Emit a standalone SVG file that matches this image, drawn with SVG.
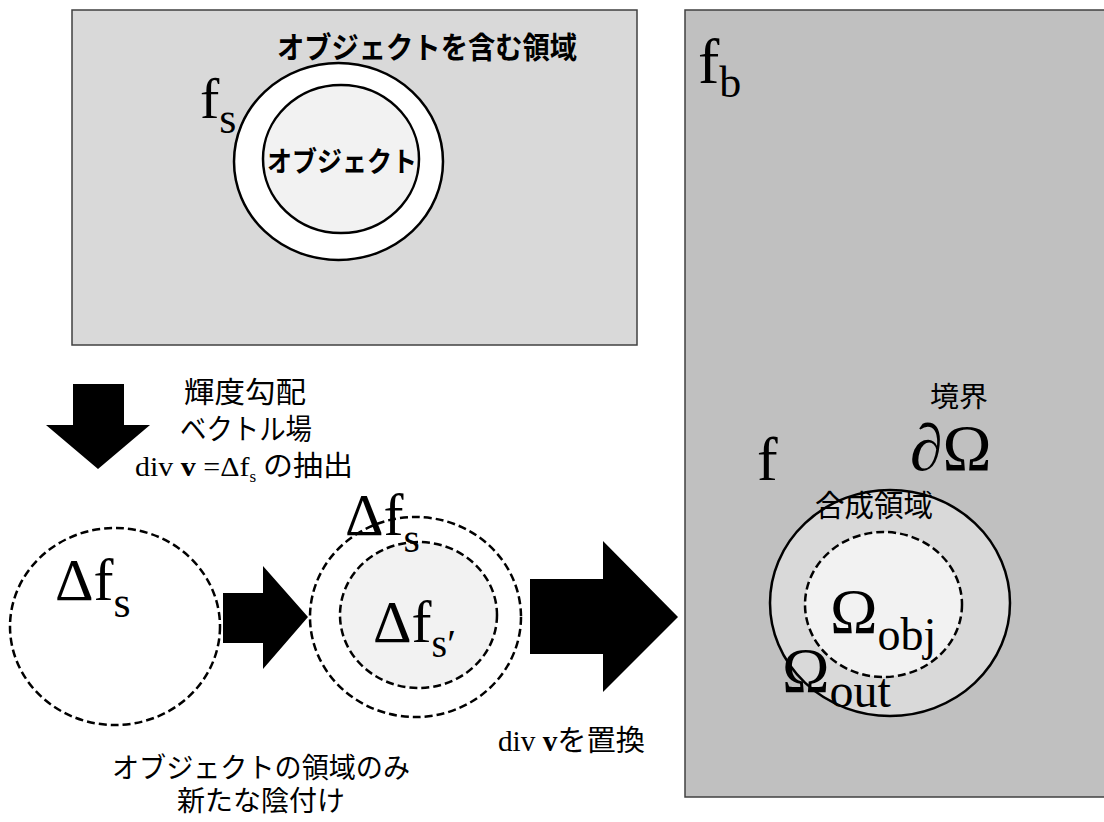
<svg xmlns="http://www.w3.org/2000/svg" width="1104" height="822" viewBox="0 0 1104 822">
<style>
.serif{font-family:"Liberation Serif","Times New Roman",serif;fill:#000}
.jp{font-family:"Noto Sans CJK JP","Noto Sans",sans-serif;fill:#000}
.jpb{font-family:"Noto Sans CJK JP","Noto Sans",sans-serif;font-weight:bold;fill:#000}
.frame{stroke:#404040;stroke-width:1.5}
.solid{stroke:#000;stroke-width:2.5}
.dash{stroke:#000;stroke-width:2.5;stroke-dasharray:8 4}
.arrow{fill:#000;stroke:none}
</style>
<rect width="1104" height="822" fill="#fff"/>
<g id="source-image">
  <rect class="frame" x="72" y="10" width="565" height="335" fill="#d9d9d9"/>
  <ellipse class="solid" cx="338.5" cy="161.5" rx="104.5" ry="98.5" fill="#fff"/>
  <ellipse class="solid" cx="341" cy="159" rx="78" ry="74" fill="#f2f2f2"/>
  <text class="jpb" x="277" y="58" font-size="30" textLength="300" lengthAdjust="spacingAndGlyphs">オブジェクトを含む領域</text>
  <text class="jpb" x="267" y="172" font-size="28" textLength="150" lengthAdjust="spacingAndGlyphs">オブジェクト</text>
  <text class="serif" x="200" y="118" font-size="58">f<tspan font-size="44" dy="15">s</tspan></text>
</g>
<g id="target-image">
  <rect class="frame" x="685" y="10" width="430" height="787" fill="#c0c0c0"/>
  <text class="serif" x="698" y="83" font-size="64">f<tspan font-size="44" dy="14">b</tspan></text>
  <text class="serif" x="757" y="480" font-size="62">f</text>
  <text class="jp" x="930" y="407" font-size="28" textLength="58" lengthAdjust="spacingAndGlyphs">境界</text>
  <text class="serif" x="910" y="470" font-size="66">∂Ω</text>
  <ellipse class="solid" cx="890" cy="603" rx="120" ry="113" fill="#d9d9d9"/>
  <ellipse class="dash" cx="883.5" cy="604.5" rx="78.5" ry="72.5" fill="#f2f2f2"/>
  <text class="jp" x="815" y="516" font-size="30" textLength="118" lengthAdjust="spacingAndGlyphs">合成領域</text>
  <text class="serif" x="830" y="633" font-size="64">Ω<tspan font-size="46" dy="17">obj</tspan></text>
  <text class="serif" x="782" y="692" font-size="64">Ω<tspan font-size="48" dy="15">out</tspan></text>
</g>
<g id="gradient-field">
  <ellipse class="dash" cx="115" cy="626.5" rx="105" ry="98.5" fill="#fff"/>
  <text class="serif" x="55" y="600" font-size="60">Δf<tspan font-size="44" dy="17">s</tspan></text>
</g>
<g id="new-shading">
  <ellipse class="dash" cx="415.5" cy="617" rx="105.5" ry="100" fill="#fff"/>
  <ellipse class="dash" cx="418.5" cy="615" rx="78.5" ry="73" fill="#f2f2f2"/>
  <text class="serif" x="345" y="535" font-size="60">Δf<tspan font-size="42" dy="17">s</tspan></text>
  <text class="serif" x="373" y="642" font-size="60">Δf<tspan font-size="40" dy="15">s′</tspan></text>
</g>
<g id="connectors">
  <polygon class="arrow" points="73,384 124,384 124,425 150,425 98,469 46,425 73,425"/>
  <polygon class="arrow" points="223,593 263,593 263,566 308,617 263,669 263,643 223,643"/>
  <polygon class="arrow" points="530,579 603,579 603,541 678,617 603,692 603,654 530,654"/>
</g>
<g id="labels">
  <text class="jp" x="184" y="403" font-size="29" textLength="122" lengthAdjust="spacingAndGlyphs">輝度勾配</text>
  <text class="jp" x="180" y="440" font-size="29" textLength="132" lengthAdjust="spacingAndGlyphs">ベクトル場</text>
  <text x="135" y="476" font-size="28" textLength="218" lengthAdjust="spacingAndGlyphs"><tspan class="serif">div </tspan><tspan class="serif" font-weight="bold">v</tspan><tspan class="serif"> =Δf</tspan><tspan class="serif" font-size="16" dy="6">s</tspan><tspan class="jp" dy="-6"> の抽出</tspan></text>
  <text x="498" y="751" font-size="29" textLength="147" lengthAdjust="spacingAndGlyphs"><tspan class="serif">div </tspan><tspan class="serif" font-weight="bold">v</tspan><tspan class="jp">を置換</tspan></text>
  <text class="jp" x="112" y="778" font-size="28" textLength="298" lengthAdjust="spacingAndGlyphs">オブジェクトの領域のみ</text>
  <text class="jp" x="261" y="811" font-size="28" text-anchor="middle">新たな陰付け</text>
</g>
</svg>
